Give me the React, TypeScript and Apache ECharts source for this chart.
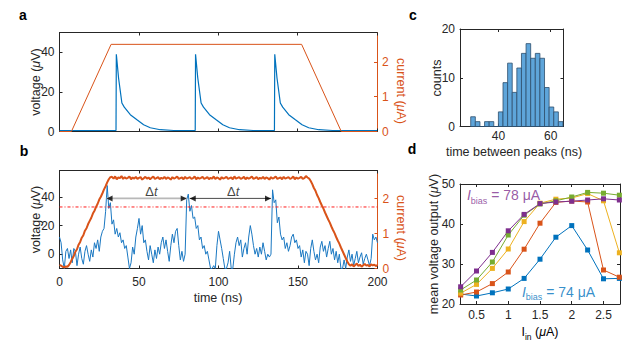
import React, { useEffect, useRef } from "react";
import * as echarts from "echarts";

const FONT = '"Liberation Sans", Arial, Helvetica, sans-serif';
const AX = "#262626";
const C_BLUE = "#0072BD";
const C_ORANGE = "#D95319";
const C_YELLOW = "#EDB120";
const C_GREEN = "#77AC30";
const C_PURPLE = "#7E2F8E";

// ---------- panel a : simulated trace ----------
const aCurrent: [number, number][] = [
  [0, 0], [7.5, 0], [32.5, 2.5], [152.5, 2.5], [177.5, 0], [200, 0],
];
const aVoltage: [number, number][] = [
  [0, 0.5], [35.6, 0.5], [35.8, 39], [37.2, 27], [39.3, 14.4], [40.8, 12.3], [44.6, 8.5], [48.8, 5.9], [53, 3.4], [57.2, 1.9], [63.5, 0.9], [72, 0.5],
  [85.5, 0.5], [85.7, 39], [87.1, 27], [89.2, 14.4], [90.7, 12.3], [94.5, 8.5], [98.7, 5.9], [102.9, 3.4], [107.1, 1.9], [113.4, 0.9], [122, 0.5],
  [135.4, 0.5], [135.6, 39], [137, 27], [139.1, 14.4], [140.6, 12.3], [144.4, 8.5], [148.6, 5.9], [152.8, 3.4], [157, 1.9], [163.3, 0.9], [172, 0.5], [200, 0.5],
];
const timeTicks = [0, 50, 100, 150, 200];

// ---------- panel b : measured trace (1 ns steps, 0..200 ns) ----------
const bVoltage: number[] = [
  12, 8, -4, -10, 2, 4, -3, 3, -6, 4,
  2, -8, 0, 5, -3, -7, 2, 6, 0, -5,
  3, -2, 8, 4, 10, 2, 12, 16, 18, 30,
  48, 32, 36, 21, 24, 14, 18, 12, 15, 8,
  10, 4, 6, -2, -10, -6, 5, 0, 12, 18,
  25, 14, 20, 8, 10, 2, -4, 6, 0, -6,
  3, -3, 5, 0, 8, 12, 4, 10, 2, -5,
  6, 14, 8, 16, 18, 6, -4, 2, -5, 0,
  38, 42, 30, 34, 25, 26, 18, 20, 10, 12,
  4, 6, 0, 2, -4, -10, -10, -8, -10, 6,
  16, 10, 4, -3, -10, -10, -6, 2, -10, -10,
  0, 8, 12, 6, 10, -2, 4, 8, 0, 12,
  20, 14, 6, 0, 4, -2, 5, 0, 8, 2,
  -4, 0, -2, 0, 45, 36, 38, 22, 26, 14,
  10, 12, 4, 8, 2, 6, 12, 14, 8, 10,
  4, 6, -2, 3, -6, 2, 0, -8, 4, 10,
  2, -4, 0, -6, 5, 9, 2, 6, -2, 4,
  9, 0, 4, -4, 2, -6, 0, -10, -10, -4,
  -10, -2, 3, -5, 0, -8, -3, 2, -6, -2,
  1, -7, -3, 0, -4, -8, -3, 14, 10, 12,
  8,
];
const bCurrent: number[] = [
  0.10, 0.08, 0.05, 0.03, 0.06, 0.05, 0.10,
  0.18, 0.28, 0.36, 0.48, 0.55, 0.68, 0.76, 0.88, 0.95, 1.08, 1.15, 1.27, 1.36, 1.45, 1.57, 1.65, 1.76, 1.85, 1.97, 2.05, 2.15, 2.26, 2.35, 2.46, 2.55, 2.61,
  2.62, 2.57, 2.63, 2.55, 2.60, 2.58, 2.64, 2.56, 2.61, 2.57,
  2.59, 2.63, 2.55, 2.60, 2.57, 2.62, 2.56, 2.59, 2.61, 2.54,
  2.58, 2.62, 2.57, 2.60, 2.55, 2.59, 2.63, 2.56, 2.58, 2.61,
  2.55, 2.59, 2.57, 2.62, 2.56, 2.60, 2.58, 2.54, 2.61, 2.57,
  2.59, 2.63, 2.56, 2.58, 2.60, 2.55, 2.62, 2.57, 2.59, 2.61,
  2.56, 2.58, 2.63, 2.55, 2.60, 2.57, 2.59, 2.62, 2.56, 2.58,
  2.61, 2.55, 2.59, 2.57, 2.63, 2.56, 2.60, 2.58, 2.54, 2.61,
  2.57, 2.59, 2.62, 2.56, 2.58, 2.60, 2.55, 2.63, 2.57, 2.59,
  2.61, 2.56, 2.58, 2.62, 2.55, 2.60, 2.57, 2.59, 2.63, 2.56,
  2.58, 2.61, 2.55, 2.59, 2.57, 2.62, 2.56, 2.60, 2.58, 2.54,
  2.61, 2.57, 2.59, 2.63, 2.56, 2.58, 2.60, 2.55, 2.62, 2.57,
  2.59, 2.61, 2.56, 2.58, 2.63, 2.55, 2.60, 2.57, 2.59, 2.62,
  2.56, 2.58, 2.64, 2.60, 2.57,
  2.50, 2.41, 2.30, 2.22, 2.10, 2.01, 1.90, 1.80, 1.71, 1.60, 1.50, 1.40, 1.31, 1.20, 1.10, 1.01, 0.90, 0.80, 0.71, 0.60, 0.50, 0.40, 0.30, 0.20, 0.12,
  0.08, 0.12, 0.06, 0.10, 0.14, 0.07, 0.11, 0.05, 0.09, 0.13, 0.08, 0.10, 0.06, 0.12, 0.09, 0.11, 0.07, 0.10,
];
const bThreshold = 33;
const bArrows: [number, number, number][] = [
  // [start, end, level]
  [29.6, 80, 39],
  [81.9, 133, 39],
];
const bArrowColors = ["#b8b8b8", "#4a4a4a"];
const bDeltaLabels: [number, number][] = [
  [57.8, 44],
  [109.2, 44],
];

// ---------- panel c : histogram ----------
const cBinStart = 29.4;
const cBinWidth = 1.765;
const cCounts = [2, 1, 0, 1, 1, 0, 3, 9, 13, 7, 12, 15, 17, 14, 15, 14, 8, 4, 3, 1];

// ---------- panel d ----------
const dIin = [0.25, 0.5, 0.75, 1, 1.25, 1.5, 1.75, 2, 2.25, 2.5, 2.75];
const dBlue74 = [22.5, 22.0, 22.8, 23.75, 26.4, 31.2, 36.7, 39.6, 33.5, 26.3, 26.4];
const dOrange = [22.25, 23.0, 25.1, 28.0, 33.7, 40.2, 45.4, 45.75, 45.5, 28.5, 26.7];
const dYellow = [22.7, 24.9, 28.9, 33.75, 40.6, 45.2, 46.2, 46.5, 47.6, 45.8, 32.8];
const dGreen = [23.5, 26.0, 30.5, 37.25, 42.2, 45.0, 45.8, 46.75, 47.9, 47.7, 47.2];
const dPurple78 = [24.3, 28.25, 32.9, 38.3, 42.4, 45.1, 45.5, 45.7, 46.0, 46.3, 46.0];

function xAx(grid: number, min: number, max: number, ticks: number[], position: string, showLabel: boolean, margin = 6, color = AX) {
  return {
    type: "value", gridIndex: grid, min, max, position,
    axisLine: { show: true, onZero: false, lineStyle: { color, width: 1 } },
    axisTick: { show: true, inside: true, length: 3, customValues: ticks, lineStyle: { color, width: 1 } },
    axisLabel: { show: showLabel, customValues: ticks, color: AX, fontSize: 12, fontFamily: FONT, margin },
    splitLine: { show: false },
  };
}
function yAx(grid: number, min: number, max: number, ticks: number[], position: string, showLabel: boolean, color = AX) {
  return {
    type: "value", gridIndex: grid, min, max, position,
    axisLine: { show: true, onZero: false, lineStyle: { color, width: 1 } },
    axisTick: { show: true, inside: true, length: 3, customValues: ticks, lineStyle: { color, width: 1 } },
    axisLabel: { show: showLabel, customValues: ticks, color: color, fontSize: 12, fontFamily: FONT, margin: 5 },
    splitLine: { show: false },
  };
}

const muRich = (color: string, size = 12.5) => ({
  n: { fontFamily: FONT, fontSize: size, color },
  i: { fontFamily: FONT, fontSize: size, color, fontStyle: "italic" },
});

function label(text: string, x: number, y: number, rot: number, color = AX, size = 12.5) {
  return {
    type: "text", x, y, rotation: rot, silent: true,
    style: { text, rich: muRich(color, size), fill: color, font: `${size}px ${FONT}`, align: "center", verticalAlign: "middle" },
  };
}
function panelLetter(t: string, x: number, y: number) {
  return {
    type: "text", x, y, silent: true,
    style: { text: t, fill: "#000", font: `bold 14px ${FONT}`, align: "center", verticalAlign: "middle" },
  };
}

const biasRich = (color: string) => ({
  i: { fontFamily: FONT, fontSize: 14, color, fontStyle: "italic", lineHeight: 20 },
  s: { fontFamily: FONT, fontSize: 9, color, lineHeight: 9, verticalAlign: "bottom" },
  n: { fontFamily: FONT, fontSize: 14, color, lineHeight: 20 },
});

export default function App() {
  const ref = useRef<HTMLDivElement>(null);
  useEffect(() => {
    if (!ref.current) return;
    const chart = echarts.init(ref.current, null, { renderer: "svg" });
    const grids = [
      { left: 59.5, top: 32.5, width: 317.5, height: 99 },
      { left: 59.5, top: 170.5, width: 318, height: 98 },
      { left: 460, top: 29, width: 103.5, height: 97.5 },
      { left: 460, top: 184, width: 160, height: 120 },
    ].map((g) => ({ ...g, containLabel: false, outerBoundsMode: "none" }));

    const dLine = (vals: number[], color: string) => ({
      type: "line", xAxisIndex: 6, yAxisIndex: 6,
      data: dIin.map((x, i) => [x, vals[i]]),
      symbol: "rect", symbolSize: 5, showSymbol: true,
      lineStyle: { color, width: 1 }, itemStyle: { color },
      clip: false,
    });

    const option: any = {
      animation: false,
      grid: grids,
      xAxis: [
        xAx(0, 0, 200, timeTicks, "bottom", false),
        xAx(0, 0, 200, timeTicks, "top", false),
        xAx(1, 0, 200, timeTicks, "bottom", true, 7),
        xAx(1, 0, 200, timeTicks, "top", false),
        xAx(2, 25.3, 64.9, [40, 60], "bottom", true, 3),
        xAx(2, 25.3, 64.9, [40, 60], "top", false),
        xAx(3, 0.24, 2.76, [0.5, 1, 1.5, 2, 2.5], "bottom", true, 5),
        xAx(3, 0.24, 2.76, [0.5, 1, 1.5, 2, 2.5], "top", false),
      ],
      yAxis: [
        yAx(0, 0, 50, [0, 20, 40], "left", true),
        yAx(0, 0, 2.84, [0, 1, 2], "right", true, C_ORANGE),
        yAx(1, -10, 58.5, [0, 20, 40], "left", true),
        yAx(1, 0, 2.8, [0, 1, 2], "right", true, C_ORANGE),
        yAx(2, 0, 20, [0, 10, 20], "left", true),
        yAx(2, 0, 20, [0, 10, 20], "right", false),
        yAx(3, 20, 50, [20, 30, 40, 50], "left", true),
        yAx(3, 20, 50, [20, 30, 40, 50], "right", false),
      ],
      series: [
        // a
        { type: "line", xAxisIndex: 0, yAxisIndex: 0, data: aVoltage, showSymbol: false, lineStyle: { color: C_BLUE, width: 1.2 }, itemStyle: { color: C_BLUE } },
        { type: "line", xAxisIndex: 0, yAxisIndex: 1, data: aCurrent, showSymbol: false, lineStyle: { color: C_ORANGE, width: 1 }, itemStyle: { color: C_ORANGE } },
        // b
        {
          type: "line", xAxisIndex: 2, yAxisIndex: 2,
          data: bVoltage.map((v, i) => [i, v]), showSymbol: false,
          lineStyle: { color: "#1a78c2", width: 1 }, itemStyle: { color: "#1a78c2" },
        },
        {
          type: "line", xAxisIndex: 2, yAxisIndex: 2, silent: true, z: 4,
          data: [[0, bThreshold], [200, bThreshold]], showSymbol: false,
          lineStyle: { color: "#ff1a1a", width: 1, type: [3, 2, 1, 2] },
        },
        ...bArrows.map((a, k) => ({
          type: "line", xAxisIndex: 2, yAxisIndex: 2, silent: true, z: 4,
          data: [[a[0], a[2]], [a[1], a[2]]], showSymbol: false,
          lineStyle: { color: bArrowColors[k], width: k === 0 ? 1.6 : 1 },
        })),
        {
          type: "line", xAxisIndex: 2, yAxisIndex: 3,
          data: bCurrent.map((v, i) => [i, v]), showSymbol: false,
          lineStyle: { color: C_ORANGE, width: 2 }, itemStyle: { color: C_ORANGE }, z: 3,
        },
        {
          type: "scatter", xAxisIndex: 2, yAxisIndex: 2, symbol: "triangle", symbolSize: [6, 6], z: 5,
          itemStyle: { color: "#000" }, silent: true,
          data: bArrows.flatMap((a) => [
            { value: [a[0], a[2]], symbolRotate: 90, symbolOffset: [3, 0] },
            { value: [a[1], a[2]], symbolRotate: -90, symbolOffset: [-3, 0] },
          ]),
        },
        {
          type: "scatter", xAxisIndex: 2, yAxisIndex: 2, symbolSize: 0, silent: true, z: 5,
          data: bDeltaLabels,
          label: {
            show: true, position: "inside", formatter: "{n|Δ}{i|t}",
            rich: { n: { fontFamily: FONT, fontSize: 13, color: "#111" }, i: { fontFamily: FONT, fontSize: 13, color: "#111", fontStyle: "italic" } },
          },
        },
        // c
        {
          type: "custom", xAxisIndex: 4, yAxisIndex: 4,
          data: cCounts.map((c, i) => [cBinStart + i * cBinWidth, cBinStart + (i + 1) * cBinWidth, c]),
          encode: { x: [0, 1], y: 2 },
          renderItem: (params: any, api: any) => {
            const p0 = api.coord([api.value(0), api.value(2)]);
            const p1 = api.coord([api.value(1), 0]);
            return {
              type: "rect",
              shape: { x: p0[0], y: p0[1], width: p1[0] - p0[0], height: p1[1] - p0[1] },
              style: { fill: "#5ea5da", stroke: "#2d4e6c", lineWidth: 0.8 },
            };
          },
        },
        // d
        dLine(dBlue74, C_BLUE),
        dLine(dOrange, C_ORANGE),
        dLine(dYellow, C_YELLOW),
        dLine(dGreen, C_GREEN),
        dLine(dPurple78, C_PURPLE),
        {
          type: "scatter", xAxisIndex: 6, yAxisIndex: 6, symbolSize: 0, silent: true, z: 6,
          data: [
            { value: [0.35, 47.25], label: { formatter: "{i|I}{s|bias}{n| = 78 μA}", rich: biasRich(C_PURPLE) } },
            { value: [1.215, 23.1], label: { formatter: "{i|I}{s|bias}{n| = 74 μA}", rich: biasRich(C_BLUE) } },
          ],
          label: { show: true, position: "right", distance: 0 },
        },
      ],
      graphic: [
        panelLetter("a", 23, 15),
        panelLetter("b", 24, 151),
        panelLetter("c", 413, 15),
        panelLetter("d", 412, 149),
        label("{n|voltage (}{i|μ}{n|V)}", 36, 82, Math.PI / 2),
        label("{n|voltage (}{i|μ}{n|V)}", 36, 219.5, Math.PI / 2),
        label("{n|current (}{i|μ}{n|A)}", 401, 91, -Math.PI / 2, C_ORANGE),
        label("{n|current (}{i|μ}{n|A)}", 401, 228, -Math.PI / 2, C_ORANGE),
        label("{n|time (ns)}", 218, 298, 0),
        label("{n|counts}", 437, 78, Math.PI / 2),
        label("{n|time between peaks (ns)}", 514, 152, 0),
        label("{n|mean voltage output (}{i|μ}{n|V)}", 434, 244, Math.PI / 2),
        {
          type: "text", x: 540, y: 332, silent: true,
          style: {
            text: "{n|I}{s|in}{n| (}{i|μ}{n|A)}",
            rich: {
              n: { fontFamily: FONT, fontSize: 12.5, color: AX, lineHeight: 18 },
              i: { fontFamily: FONT, fontSize: 12.5, color: AX, fontStyle: "italic", lineHeight: 18 },
              s: { fontFamily: FONT, fontSize: 8.5, color: AX, lineHeight: 8, verticalAlign: "bottom" },
            },
            align: "center", verticalAlign: "middle",
          },
        },
      ],
    };
    chart.setOption(option);
    return () => chart.dispose();
  }, []);
  return (
    <div
      ref={ref}
      style={{ position: "fixed", left: 0, top: 0, width: 640, height: 340, background: "#fff" }}
    />
  );
}
